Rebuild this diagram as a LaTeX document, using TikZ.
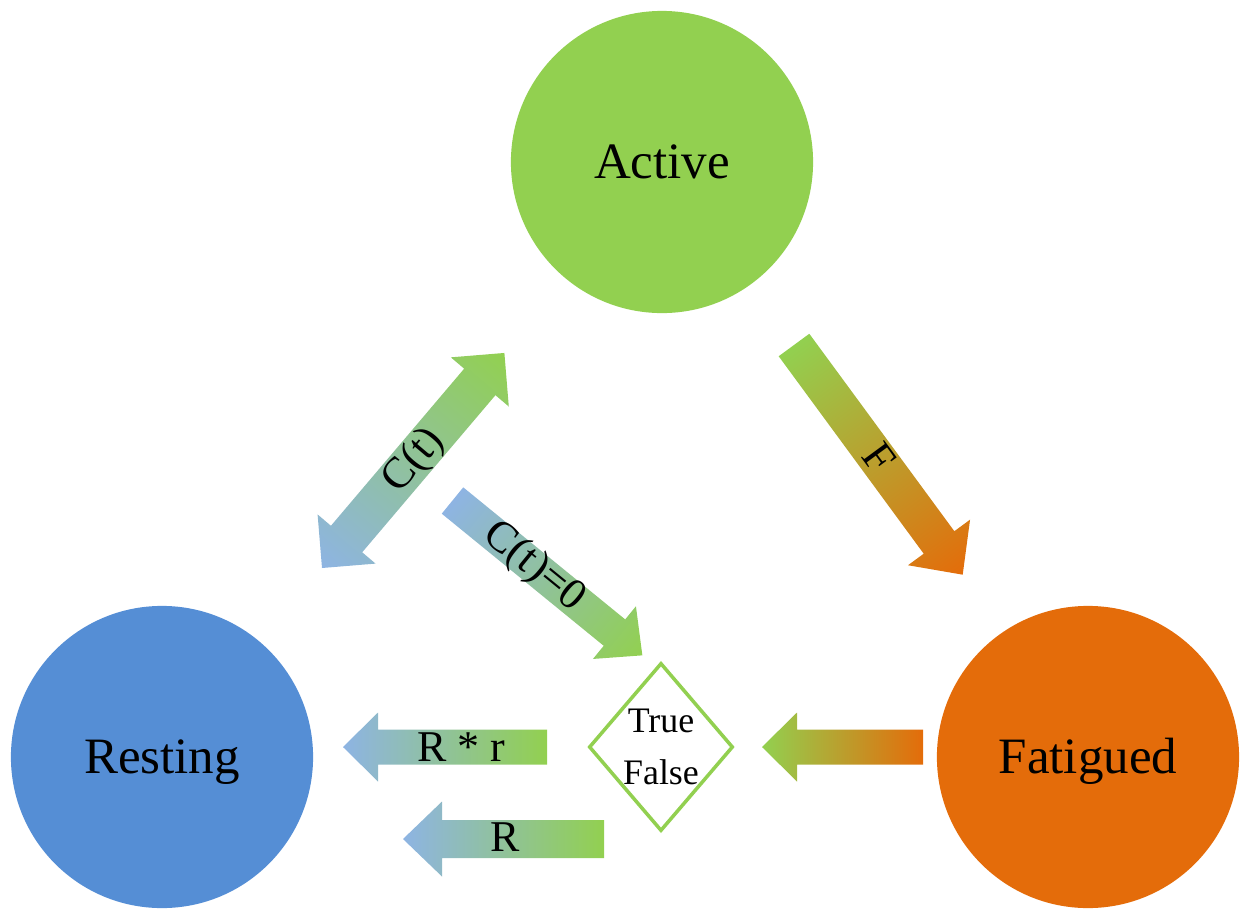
\documentclass[tikz,border=0pt]{standalone}
\usepackage{fontspec}
\setmainfont{Liberation Serif}
\usetikzlibrary{shapes.geometric}
\definecolor{actgreen}{HTML}{92D050}
\definecolor{restblue}{HTML}{558ED5}
\definecolor{fatorange}{HTML}{E46C0A}
\definecolor{lightblue}{HTML}{8EB4E3}
% #1 tail coordinate, #2 angle, #3 length, #4 shaft width, #5 head width, #6 head length, #7 shading (left = tail)
\newcommand\fatarrow[7]{%
  \begin{scope}[transform canvas={shift={(#1)}, rotate=#2}]
    \shade[#7] (0,-#4/2) -- (#3-#6,-#4/2) -- (#3-#6,-#5/2) -- (#3,0) -- (#3-#6,#5/2) -- (#3-#6,#4/2) -- (0,#4/2) -- cycle;
  \end{scope}}
\newcommand\fatdarrow[7]{%
  \begin{scope}[transform canvas={shift={(#1)}, rotate=#2}]
    \shade[#7] (0,0) -- (#6,-#5/2) -- (#6,-#4/2) -- (#3-#6,-#4/2) -- (#3-#6,-#5/2) -- (#3,0) -- (#3-#6,#5/2) -- (#3-#6,#4/2) -- (#6,#4/2) -- (#6,#5/2) -- cycle;
  \end{scope}}
\tikzset{
  state/.style={circle, minimum size=3.02cm, inner sep=0pt, text height=9.6pt, text depth=0pt,
    font=\fontsize{14.5}{17}\selectfont},
  arrlabel/.style={inner sep=0pt, font=\fontsize{12.5}{15}\selectfont},
  decision/.style={diamond, draw=actgreen, line width=1pt, fill=white, inner sep=0pt,
    minimum width=1.44cm, minimum height=1.68cm},
  dectext/.style={align=center, inner sep=0pt, font=\fontsize{10.2}{14.8}\selectfont},
}
\begin{document}
\begin{tikzpicture}[x=0.01cm, y=-0.01cm]
\useasboundingbox (0,0) rectangle (1241,914);
% states
\node[state, fill=actgreen] (active) at (662,162) {Active};
\node[state, fill=restblue] (resting) at (162,757) {Resting};
\node[state, fill=fatorange] (fatigued) at (1088,757) {Fatigued};
% decision
\node[decision] (dec) at (661,747) {};
\node[dectext] (dectxt) at (dec.center) {True\\False};
% arrow tails
\coordinate (ctail) at (322,568);
\coordinate (ftail) at (794,345);
\coordinate (c0tail) at (452.5,500.5);
\coordinate (fdtail) at (923,747);
\coordinate (rrtail) at (547,747);
\coordinate (rtail) at (604,839);
% fat arrows
\fatdarrow{ctail}{49.7}{282}{41}{76}{38}{left color=lightblue, right color=actgreen}
\fatarrow{ftail}{-53.7}{285}{38}{77}{40}{left color=actgreen, right color=fatorange}
\fatarrow{c0tail}{-39.2}{245}{34}{68}{36}{left color=lightblue, right color=actgreen}
\fatarrow{fdtail}{180}{161}{35}{69}{35}{left color=fatorange, right color=actgreen}
\fatarrow{rrtail}{180}{204}{35}{69}{35}{left color=actgreen, right color=lightblue}
\fatarrow{rtail}{180}{201}{38}{75}{39}{left color=actgreen, right color=lightblue}
% labels
\node[arrlabel, rotate=49.7] (lct) at (414,461) {C(t)};
\node[arrlabel, rotate=-39.2] (lc0) at (534,567) {C(t)=0};
\node[arrlabel, rotate=-53.7] (lf) at (879,458) {F};
\node[arrlabel] (lrr) at (461,747) {R * r};
\node[arrlabel] (lr) at (505,837) {R};
\end{tikzpicture}
\end{document}
